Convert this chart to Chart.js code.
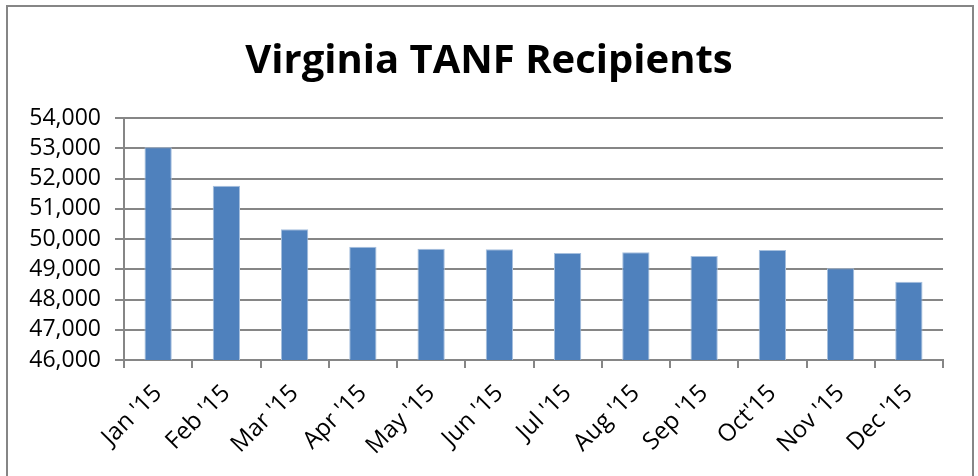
<!DOCTYPE html>
<html>
<head>
<meta charset="utf-8">
<script src="https://cdn.jsdelivr.net/npm/chart.js@4.4.1/dist/chart.umd.min.js"></script>
<style>
html,body{margin:0;padding:0;background:#fff;}
#wrap{width:978px;height:476px;position:relative;}
</style>
</head>
<body>
<div id="wrap"><canvas id="c" width="978" height="476"></canvas></div>
<script>
const categories = ["Jan '15","Feb '15","Mar '15","Apr '15","May '15","Jun '15","Jul '15","Aug '15","Sep '15","Oct'15","Nov '15","Dec '15"];
const recipients = [53030, 51760, 50320, 49745, 49680, 49665, 49535, 49565, 49435, 49635, 49035, 48590];
const yMin = 46000, yMax = 54000, yStep = 1000;
const titleText = "Virginia TANF Recipients";

const frame = {
  id: 'frame',
  beforeDraw(chart) {
    const ctx = chart.ctx;
    ctx.save();
    ctx.fillStyle = '#fff';
    ctx.fillRect(0, 0, chart.width, chart.height);
    ctx.strokeStyle = '#868686';
    ctx.lineWidth = 2;
    ctx.beginPath();
    ctx.moveTo(7, 476);
    ctx.lineTo(7, 6);
    ctx.lineTo(973, 6);
    ctx.lineTo(973, 476);
    ctx.stroke();
    ctx.restore();
  }
};

new Chart(document.getElementById('c'), {
  type: 'bar',
  data: {
    labels: categories,
    datasets: [{
      data: recipients,
      backgroundColor: '#4F81BD',
      borderColor: '#A7C0DE',
      borderWidth: 1,
      barPercentage: 0.4,
      categoryPercentage: 1.0
    }]
  },
  options: {
    responsive: false,
    animation: false,
    devicePixelRatio: 1,
    layout: { padding: { left: 8, right: 8, top: 0, bottom: 0 } },
    plugins: {
      legend: { display: false },
      tooltip: { enabled: false },
      title: {
        display: true,
        text: titleText,
        color: '#000',
        font: { family: 'Open Sans', size: 40, weight: 'bold', lineHeight: 1.2 },
        padding: { top: 38, bottom: 32 }
      }
    },
    scales: {
      x: {
        grid: { display: true, drawOnChartArea: false, drawTicks: true, tickLength: 8, color: '#868686', lineWidth: 2, offset: true },
        border: { display: true, color: '#868686', width: 2 },
        ticks: {
          color: '#000',
          font: { family: 'Open Sans', size: 24, lineHeight: 1 },
          maxRotation: 45, minRotation: 45, autoSkip: false, padding: 13
        },
        afterFit(scale) { scale.height = 116; }
      },
      y: {
        min: yMin, max: yMax,
        grid: { color: '#868686', lineWidth: 2, tickLength: 9, drawTicks: true },
        border: { display: true, color: '#868686', width: 2 },
        ticks: {
          stepSize: yStep,
          autoSkip: false,
          color: '#000',
          font: { family: 'Open Sans', size: 23, lineHeight: 1 },
          padding: 14,
          callback: v => v.toLocaleString('en-US')
        },
        afterFit(scale) { scale.width = 116; }
      },
      spacer: {
        type: 'linear',
        position: 'right',
        display: true,
        grid: { display: false, drawTicks: false },
        border: { display: false },
        ticks: { display: false },
        afterFit(scale) { scale.width = 27; }
      }
    }
  },
  plugins: [frame]
});
</script>
</body>
</html>
